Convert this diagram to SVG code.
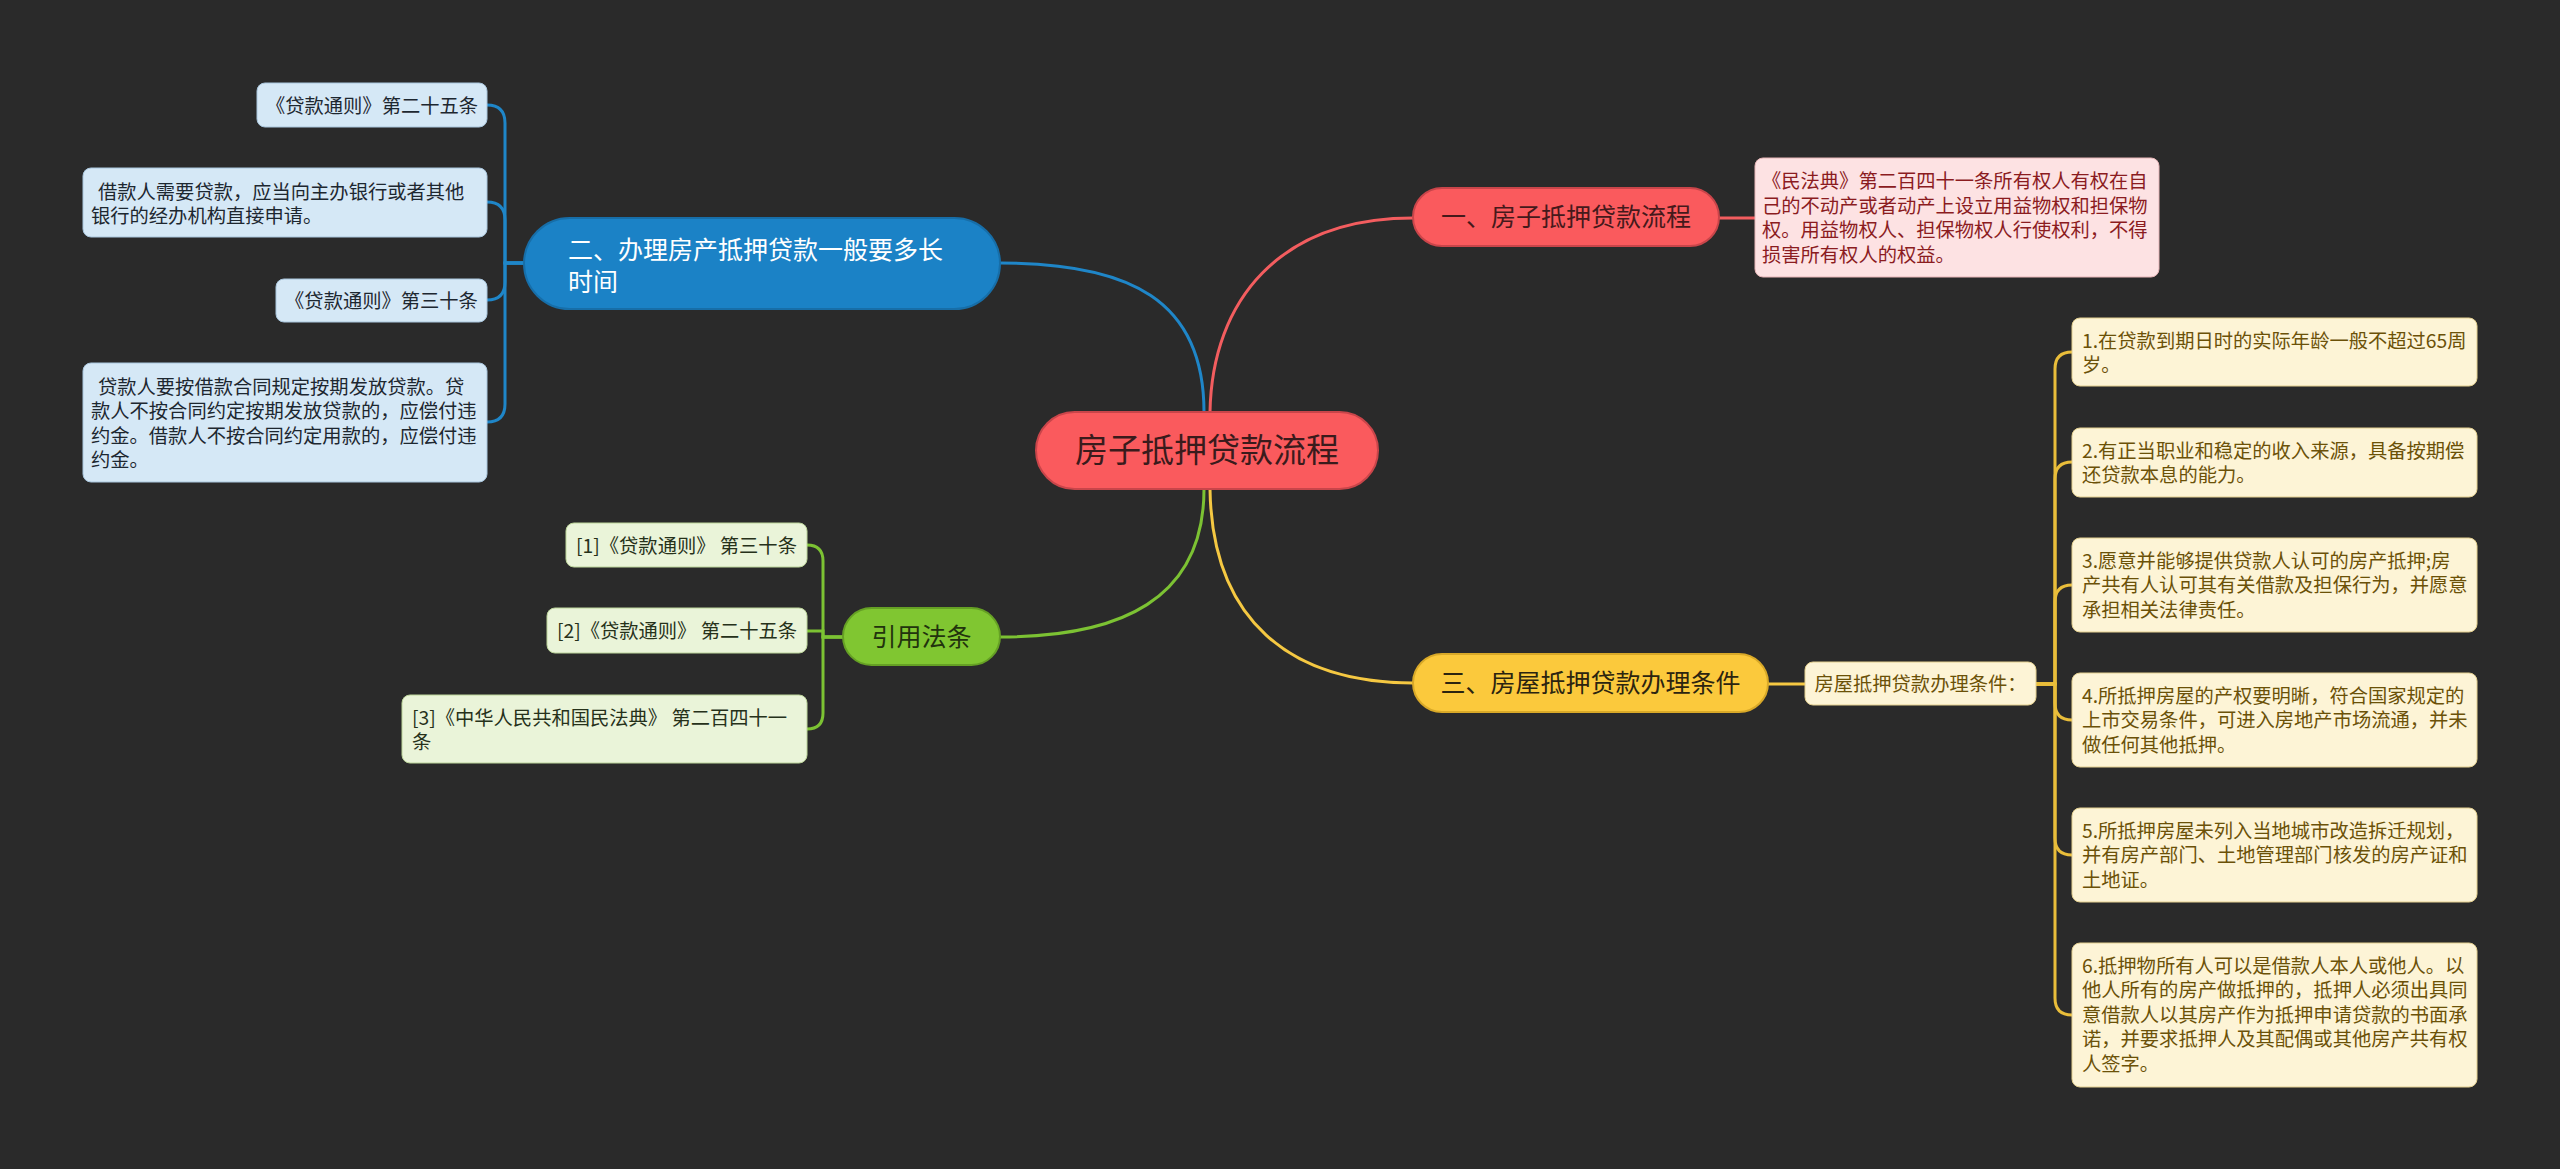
<svg xmlns="http://www.w3.org/2000/svg" width="2560" height="1169" viewBox="0 0 2560 1169">
<style>
text{font-family:"Noto Sans CJK SC","Noto Sans",sans-serif;}
.c{font-size:19.3px;}
.bl rect{fill:#d5e8f6;stroke:#a9c6dd;stroke-width:1;}
.bl text{fill:#1d2730;}
.gr rect{fill:#eaf4d9;stroke:#bcd59a;stroke-width:1;}
.gr text{fill:#26311a;}
.ye rect{fill:#fdf4d6;stroke:#e3cf8f;stroke-width:1;}
.ye text{fill:#6b5108;}
.pk rect{fill:#fde2e3;stroke:#e6b5b7;stroke-width:1;}
.pk text{fill:#8b1c1f;}
.b{font-size:25px;}
.conn path{fill:none;stroke-width:3;stroke-linecap:round;}
</style>
<rect x="0" y="0" width="2560" height="1169" fill="#2a2a2a"/>
<g id="connectors" class="conn">
  <path d="M1210 412 C1212 300 1280 218 1413 218" stroke="#f35d5f"/>
  <path d="M1204 412 C1204 300 1130 263 1000 263" stroke="#1f86c8"/>
  <path d="M1204 489 C1204 600 1120 637 1000 637" stroke="#7cc233"/>
  <path d="M1210 489 C1212 620 1290 683 1413 683" stroke="#f5c842"/>
  <path d="M1719 218 H1755" stroke="#f35d5f"/>
  <path d="M524 263 H505 V123 Q505 105 487 105" stroke="#1f86c8"/>
  <path d="M524 263 H505 V220 Q505 202 487 202" stroke="#1f86c8"/>
  <path d="M524 263 H505 V282 Q505 300 487 300" stroke="#1f86c8"/>
  <path d="M524 263 H505 V404 Q505 422 487 422" stroke="#1f86c8"/>
  <path d="M843 637 H823 V561 Q823 545 807 545" stroke="#7cc233"/>
  <path d="M843 637 H823 V631 H807" stroke="#7cc233"/>
  <path d="M843 637 H823 V713 Q823 729 807 729" stroke="#7cc233"/>
  <path d="M1768 684 H1805" stroke="#f5c842"/>
  <path d="M2036 684 H2055 V369 Q2055 352 2072 352" stroke="#e9bd3a"/>
  <path d="M2036 684 H2055 V479 Q2055 462 2072 462" stroke="#e9bd3a"/>
  <path d="M2036 684 H2055 V602 Q2055 585 2072 585" stroke="#e9bd3a"/>
  <path d="M2036 684 H2055 V703 Q2055 720 2072 720" stroke="#e9bd3a"/>
  <path d="M2036 684 H2055 V838 Q2055 855 2072 855" stroke="#e9bd3a"/>
  <path d="M2036 684 H2055 V998 Q2055 1015 2072 1015" stroke="#e9bd3a"/>
</g>
<g id="root">
  <rect x="1036" y="412" width="342" height="77" rx="38.5" fill="#fa5a5d" stroke="#c9454a" stroke-width="2"/>
  <text x="1207" y="462" font-size="33" text-anchor="middle" fill="#3a1b1c">房子抵押贷款流程</text>
</g>
<g id="branch1">
  <rect x="1413" y="188" width="306" height="58" rx="29" fill="#fa5a5d" stroke="#c9454a" stroke-width="2"/>
  <text class="b" x="1566" y="226" text-anchor="middle" fill="#45191b">一、房子抵押贷款流程</text>
</g>
<g id="b1c1" class="pk">
  <rect x="1755" y="158" width="404" height="119" rx="8"/>
  <text class="c" x="1762" y="188">《民法典》第二百四十一条所有权人有权在自</text>
  <text class="c" x="1762" y="212.5">己的不动产或者动产上设立用益物权和担保物</text>
  <text class="c" x="1762" y="237">权。用益物权人、担保物权人行使权利，不得</text>
  <text class="c" x="1762" y="261.5">损害所有权人的权益。</text>
</g>
<g id="branch2">
  <rect x="524" y="218" width="476" height="91" rx="45.5" fill="#1b82c6" stroke="#176ea8" stroke-width="2"/>
  <text class="b" x="568" y="259" fill="#ffffff">二、办理房产抵押贷款一般要多长</text>
  <text class="b" x="568" y="291" fill="#ffffff">时间</text>
</g>
<g id="b2c1" class="bl">
  <rect x="257" y="83" width="230" height="44" rx="8"/>
  <text class="c" x="372" y="112.5" text-anchor="middle">《贷款通则》第二十五条</text>
</g>
<g id="b2c2" class="bl">
  <rect x="83" y="168" width="404" height="69" rx="8"/>
  <text class="c" x="98" y="198.5">借款人需要贷款，应当向主办银行或者其他</text>
  <text class="c" x="91" y="223">银行的经办机构直接申请。</text>
</g>
<g id="b2c3" class="bl">
  <rect x="276" y="279" width="211" height="43" rx="8"/>
  <text class="c" x="381.5" y="308" text-anchor="middle">《贷款通则》第三十条</text>
</g>
<g id="b2c4" class="bl">
  <rect x="83" y="363" width="404" height="119" rx="8"/>
  <text class="c" x="98" y="393.5">贷款人要按借款合同规定按期发放贷款。贷</text>
  <text class="c" x="91" y="418">款人不按合同约定按期发放贷款的，应偿付违</text>
  <text class="c" x="91" y="442.5">约金。借款人不按合同约定用款的，应偿付违</text>
  <text class="c" x="91" y="467">约金。</text>
</g>
<g id="branch3">
  <rect x="1413" y="654" width="355" height="58" rx="29" fill="#fbc93c" stroke="#d9a928" stroke-width="2"/>
  <text class="b" x="1590.5" y="692" text-anchor="middle" fill="#2b2410">三、房屋抵押贷款办理条件</text>
</g>
<g id="b3c1" class="ye">
  <rect x="1805" y="662" width="231" height="43" rx="8"/>
  <text class="c" x="1920.5" y="691" text-anchor="middle">房屋抵押贷款办理条件：</text>
</g>
<g id="b3g1" class="ye">
  <rect x="2072" y="318" width="405" height="68" rx="8"/>
  <text class="c" x="2082" y="347.5">1.在贷款到期日时的实际年龄一般不超过65周</text>
  <text class="c" x="2082" y="372">岁。</text>
</g>
<g id="b3g2" class="ye">
  <rect x="2072" y="428" width="405" height="69" rx="8"/>
  <text class="c" x="2082" y="457.5">2.有正当职业和稳定的收入来源，具备按期偿</text>
  <text class="c" x="2082" y="482">还贷款本息的能力。</text>
</g>
<g id="b3g3" class="ye">
  <rect x="2072" y="538" width="405" height="94" rx="8"/>
  <text class="c" x="2082" y="567.5">3.愿意并能够提供贷款人认可的房产抵押;房</text>
  <text class="c" x="2082" y="592">产共有人认可其有关借款及担保行为，并愿意</text>
  <text class="c" x="2082" y="616.5">承担相关法律责任。</text>
</g>
<g id="b3g4" class="ye">
  <rect x="2072" y="673" width="405" height="94" rx="8"/>
  <text class="c" x="2082" y="702.5">4.所抵押房屋的产权要明晰，符合国家规定的</text>
  <text class="c" x="2082" y="727">上市交易条件，可进入房地产市场流通，并未</text>
  <text class="c" x="2082" y="751.5">做任何其他抵押。</text>
</g>
<g id="b3g5" class="ye">
  <rect x="2072" y="808" width="405" height="94" rx="8"/>
  <text class="c" x="2082" y="837.5">5.所抵押房屋未列入当地城市改造拆迁规划，</text>
  <text class="c" x="2082" y="862">并有房产部门、土地管理部门核发的房产证和</text>
  <text class="c" x="2082" y="886.5">土地证。</text>
</g>
<g id="b3g6" class="ye">
  <rect x="2072" y="943" width="405" height="144" rx="8"/>
  <text class="c" x="2082" y="972.5">6.抵押物所有人可以是借款人本人或他人。以</text>
  <text class="c" x="2082" y="997">他人所有的房产做抵押的，抵押人必须出具同</text>
  <text class="c" x="2082" y="1021.5">意借款人以其房产作为抵押申请贷款的书面承</text>
  <text class="c" x="2082" y="1046">诺，并要求抵押人及其配偶或其他房产共有权</text>
  <text class="c" x="2082" y="1070.5">人签字。</text>
</g>
<g id="branch4">
  <rect x="843" y="608" width="157" height="57" rx="28.5" fill="#80c631" stroke="#65a024" stroke-width="2"/>
  <text class="b" x="921.5" y="645.5" text-anchor="middle" fill="#22330d">引用法条</text>
</g>
<g id="b4c1" class="gr">
  <rect x="566" y="523" width="241" height="44" rx="8"/>
  <text class="c" x="686.5" y="552.5" text-anchor="middle">[1]《贷款通则》 第三十条</text>
</g>
<g id="b4c2" class="gr">
  <rect x="547" y="608" width="260" height="45" rx="8"/>
  <text class="c" x="677" y="637.5" text-anchor="middle">[2]《贷款通则》 第二十五条</text>
</g>
<g id="b4c3" class="gr">
  <rect x="402" y="695" width="405" height="68" rx="8"/>
  <text class="c" x="412" y="724.5">[3]《中华人民共和国民法典》 第二百四十一</text>
  <text class="c" x="412" y="749">条</text>
</g>
</svg>
